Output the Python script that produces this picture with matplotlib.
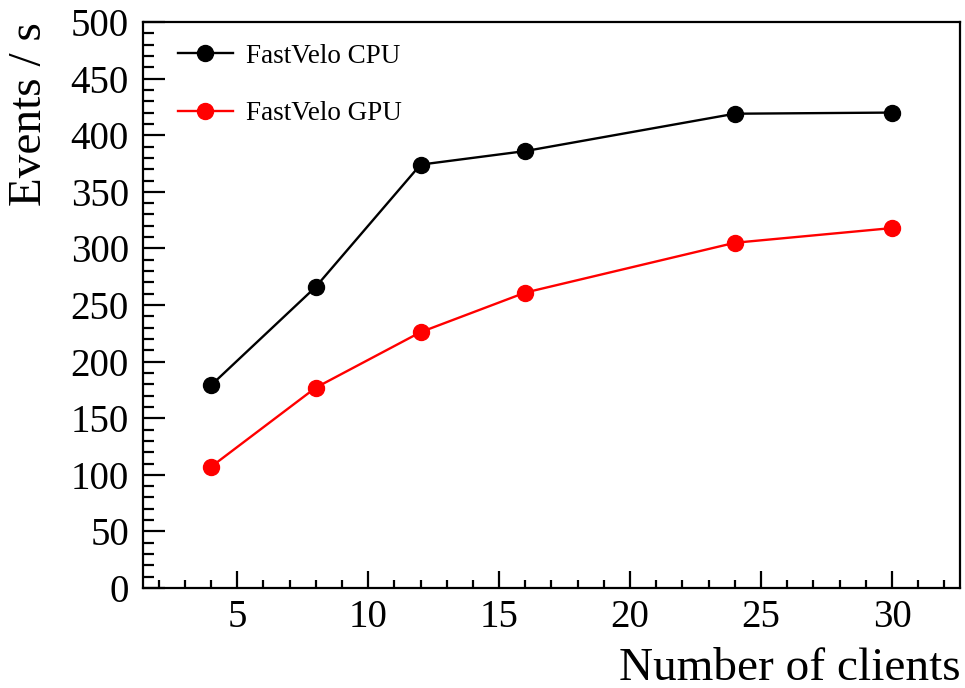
import matplotlib
matplotlib.use("Agg")
import matplotlib.pyplot as plt
from matplotlib.ticker import MultipleLocator

clients = [4, 8, 12, 16, 24, 30]
cpu_rate = [179, 266, 374, 386, 419, 420]
gpu_rate = [107, 177, 226, 261, 305, 318]

plt.rcParams["font.family"] = ["Liberation Serif", "DejaVu Serif"]

fig = plt.figure(figsize=(9.65, 6.88), dpi=100)
ax = fig.add_axes([0.148, 0.1453, 0.847, 0.8227])

ax.plot(clients, cpu_rate, color="black", marker="o", markersize=11.5,
        linewidth=1.7, label="FastVelo CPU")
ax.plot(clients, gpu_rate, color="red", marker="o", markersize=11.5,
        linewidth=1.7, label="FastVelo GPU")

ax.set_xlim(1.4, 32.6)
ax.set_ylim(0, 500)
ax.xaxis.set_major_locator(MultipleLocator(5))
ax.xaxis.set_minor_locator(MultipleLocator(1))
ax.yaxis.set_major_locator(MultipleLocator(50))
ax.yaxis.set_minor_locator(MultipleLocator(10))

for s in ax.spines.values():
    s.set_linewidth(1.6)
ax.tick_params(axis="both", which="both", direction="in", width=1.6,
               labelsize=28)
ax.tick_params(axis="y", which="major", length=16, pad=10)
ax.tick_params(axis="y", which="minor", length=8)
ax.tick_params(axis="x", which="major", length=12, pad=8)
ax.tick_params(axis="x", which="minor", length=6)

ax.set_xlabel("Number of clients", fontsize=34, loc="right", labelpad=8)
ax.set_ylabel("Events / s", fontsize=34, loc="top", labelpad=14)

ax.legend(loc="upper left", bbox_to_anchor=(0.017, 1.0), frameon=False,
          fontsize=19.5, handlelength=2.0, labelspacing=1.2,
          borderaxespad=0.4, handletextpad=0.5)

fig.savefig("out.png", dpi=100)
